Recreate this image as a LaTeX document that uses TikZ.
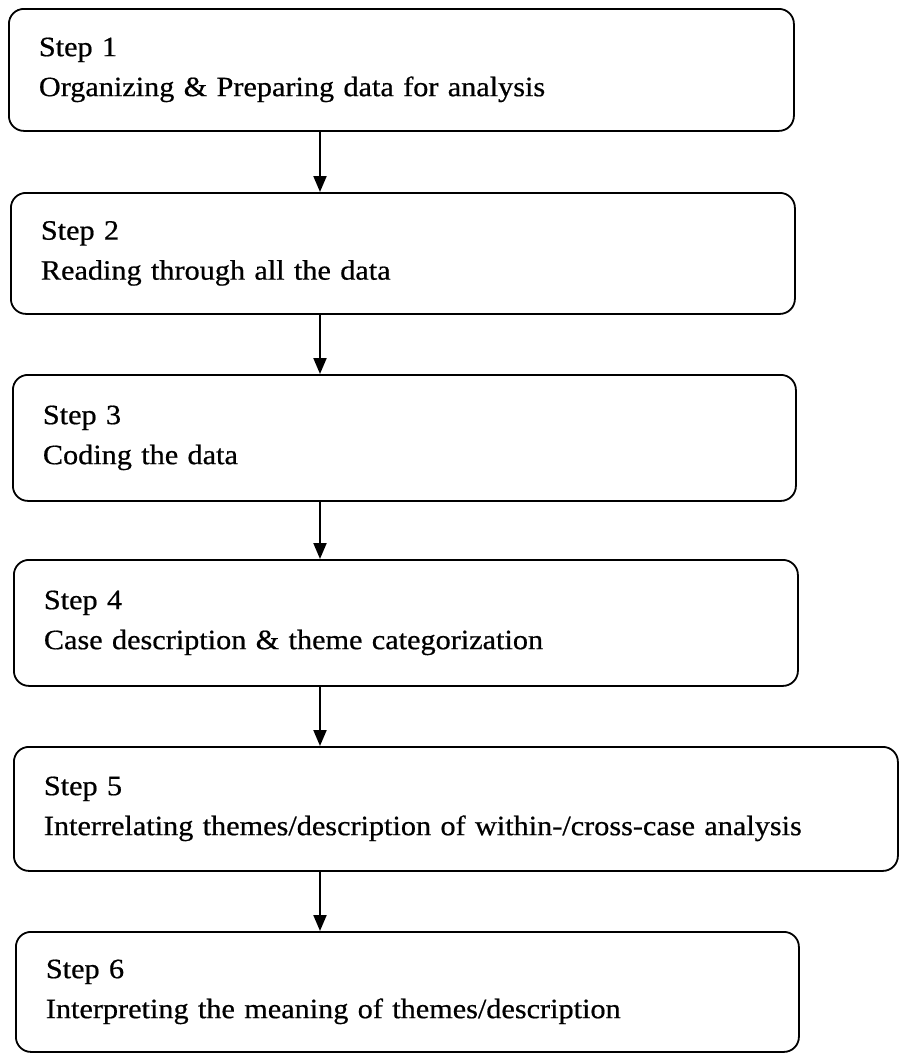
\documentclass[tikz,border=0pt]{standalone}
\usepackage{fontspec}
\setmainfont{Liberation Serif}[FakeStretch=1.08, FakeBold=0.6]
\usetikzlibrary{arrows.meta}

\tikzset{
  stepbox/.style={draw, line width=1.8pt, rounded corners=15pt,
    align=left, anchor=north west, inner xsep=30pt, inner ysep=0pt,
    font=\fontsize{28}{40}\selectfont},
  flow/.style={line width=2pt, -{Triangle[length=16pt,width=13pt]}}
}

% box with corners (x1,y1) and (x2,y2), in picture units
\newcommand{\stepnode}[6]{%
  \pgfmathsetmacro{\boxw}{#4-#2}%
  \pgfmathsetmacro{\boxh}{#5-#3}%
  \pgfmathsetmacro{\textw}{#4-#2-60}%
  \node[stepbox, minimum width=\boxw pt, minimum height=\boxh pt,
        text width=\textw pt] (#1) at (#2,#3) {#6};}

\begin{document}
\begin{tikzpicture}[x=1pt, y=-1pt]
\useasboundingbox (0,0) rectangle (898,1053);

\stepnode{s1}{8}{8}{793}{130}{Step 1\\Organizing \& Preparing data for analysis}
\stepnode{s2}{10}{192}{794}{313}{Step 2\\Reading through all the data}
\stepnode{s3}{12}{374}{795}{500}{Step 3\\Coding the data}
\stepnode{s4}{13}{559}{797}{685}{Step 4\\Case description \& theme categorization}
\stepnode{s5}{13}{746}{897}{870}{Step 5\\Interrelating themes/description of within-/cross-case analysis}
\stepnode{s6}{15}{931}{798}{1051}{Step 6\\Interpreting the meaning of themes/description}

% vertical axis that the connectors run along
\coordinate (axis) at (320,0);

\draw[flow] (s1.south -| axis) -- (s2.north -| axis);
\draw[flow] (s2.south -| axis) -- (s3.north -| axis);
\draw[flow] (s3.south -| axis) -- (s4.north -| axis);
\draw[flow] (s4.south -| axis) -- (s5.north -| axis);
\draw[flow] (s5.south -| axis) -- (s6.north -| axis);
\end{tikzpicture}
\end{document}
